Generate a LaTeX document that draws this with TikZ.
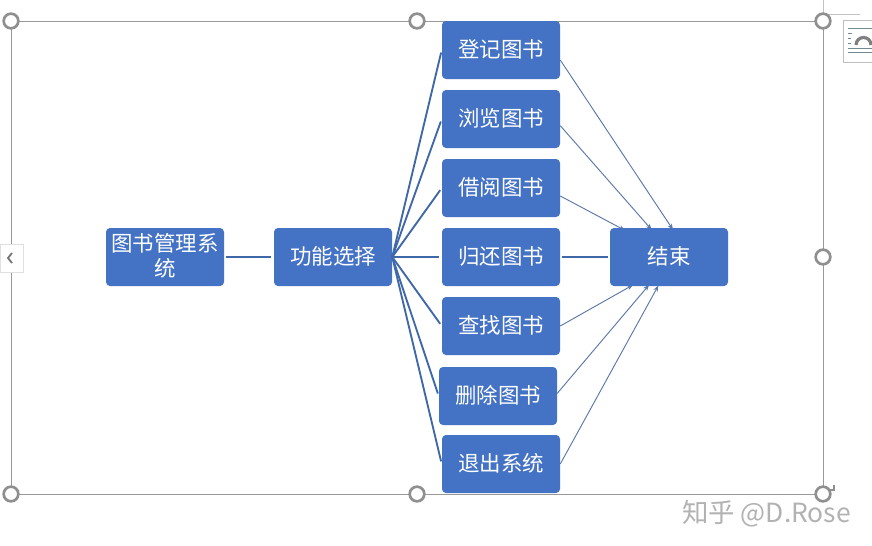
\documentclass[tikz,border=0pt]{standalone}
\usepackage{fontspec}
\setmainfont{Noto Sans CJK SC}
\usetikzlibrary{arrows.meta}
\pgfdeclarelayer{under}
\pgfsetlayers{under,main}
\definecolor{boxblue}{HTML}{4472C4}
\definecolor{linkblue}{HTML}{4068A8}
\definecolor{thinblue}{HTML}{5A78A8}
\definecolor{framegray}{HTML}{999999}
\definecolor{handlegray}{HTML}{8F8F8F}
\definecolor{icongray}{HTML}{6F8A90}
\tikzset{
  x=0.75pt,y=-0.75pt,
  boxnode/.style={fill=boxblue,rounded corners=3pt,minimum width=88.5pt,minimum height=43.5pt,
    inner sep=0pt,text=white,align=center,text depth=2.9pt,font=\fontsize{16.1pt}{19.3pt}\selectfont},
  thick link/.style={draw=linkblue,line width=1.4pt,shorten >=2pt},
  thin link/.style={draw=thinblue,line width=0.7pt,-{Stealth[length=4.5pt,width=3.5pt]}},
  handle/.style={circle,draw=handlegray,line width=2pt,fill=white,minimum size=11pt,inner sep=0pt},
}
\begin{document}
\begin{tikzpicture}
\useasboundingbox (0,0) rectangle (872,546);
\begin{pgfonlayer}{under}
\fill[white] (0,0) rectangle (872,546);
\end{pgfonlayer}
% selection frame
\coordinate (fa) at (823,0);
\coordinate (fb) at (860,14);
\coordinate (fc) at (823,14);
\draw[framegray!60,line width=0.6pt] (fa) -- (fc) -- (fb);
\node[draw=framegray,line width=0.7pt,minimum width=609pt,minimum height=354.75pt,inner sep=0pt] (frame) at (417,257.5) {};
% handles
\node[handle] (h1) at (11,21) {};
\node[handle] (h2) at (417,21) {};
\node[handle] (h3) at (823,21) {};
\node[handle] (h4) at (823,257) {};
\node[handle] (h5) at (11,494) {};
\node[handle] (h6) at (417,494) {};
\node[handle] (h7) at (823,494) {};
\coordinate (ra) at (834,485);
\coordinate (rb) at (834,490);
\coordinate (rc) at (829,490);
\draw[handlegray,line width=0.8pt] (ra) -- (rb) -- (rc);
% left expander
\node[draw=black!12,fill=white,minimum width=17pt,minimum height=21pt,inner sep=0pt,anchor=west] (expander) at (0,258) {};
\coordinate (ca) at (12,253);
\coordinate (cb) at (8,258);
\coordinate (cc) at (12,263);
\draw[black!55,line width=1.3pt] (ca) -- (cb) -- (cc);
% layout options icon
\node[draw=black!25,fill=white,minimum width=30pt,minimum height=31.5pt,inner sep=0pt,anchor=north west] (layout) at (843,20) {};
\coordinate (la) at (848,28);
\coordinate (lb) at (872,28);
\coordinate (lc) at (848,48);
\coordinate (ld) at (872,48);
\coordinate (le) at (848,52);
\coordinate (lf) at (872,52);
\coordinate (t1a) at (848,33);
\coordinate (t1b) at (852,33);
\coordinate (t2a) at (848,38);
\coordinate (t2b) at (851,38);
\coordinate (t3a) at (848,43);
\coordinate (t3b) at (851,43);
\draw[icongray,line width=0.7pt] (la) -- (lb) (lc) -- (ld) (le) -- (lf) (t1a) -- (t1b) (t2a) -- (t2b) (t3a) -- (t3b);
\coordinate (aa) at (856,45);
\draw[black!50,line width=2.4pt] (aa) arc[start angle=180,end angle=360,radius=7.5];
% boxes
\node[boxnode] (sys) at (165,257) {图书管理系\\统};
\node[boxnode] (fun) at (333,257) {功能选择};
\node[boxnode] (a) at (501,50) {登记图书};
\node[boxnode] (b) at (501,119) {浏览图书};
\node[boxnode] (c) at (501,188) {借阅图书};
\node[boxnode] (d) at (501,257) {归还图书};
\node[boxnode] (e) at (501,326) {查找图书};
\node[boxnode] (f) at (498,396) {删除图书};
\node[boxnode] (g) at (501,464) {退出系统};
\node[boxnode] (z) at (669,257) {结束};
% thick links
\draw[thick link,shorten <=1pt] (sys.east) -- (fun.west);
\foreach \t in {a,b,c,d,e,f,g}{
  \draw[thick link] (fun.east) -- (\t.west);
}
\draw[thick link,shorten >=1.5pt,shorten <=1pt] (d.east) -- (z.west);
% thin links, their heads half hidden by the box they reach
\begin{pgfonlayer}{under}
\draw[thin link] ([yshift=-7.5pt]a.east) -- ([xshift=3pt,yshift=-1.5pt]z.north);
\draw[thin link] ([yshift=-5pt]b.east) -- ([xshift=-13pt,yshift=-1.5pt]z.north);
\draw[thin link] ([yshift=-6pt]c.east) -- ([xshift=-33pt,yshift=-2pt]z.north);
\draw[thin link] (e.east) -- ([xshift=-27pt,yshift=1pt]z.south);
\draw[thin link] ([yshift=2pt]f.east) -- ([xshift=-15pt,yshift=1pt]z.south);
\draw[thin link] (g.east) -- ([xshift=-8pt,yshift=0.5pt]z.south);
\end{pgfonlayer}
% watermark
\node[text=black!30,font=\fontsize{19.8pt}{22pt}\selectfont,anchor=west,inner sep=0pt] (mark) at (682,513.5) {知乎 @D.Rose};
\end{tikzpicture}
\end{document}
